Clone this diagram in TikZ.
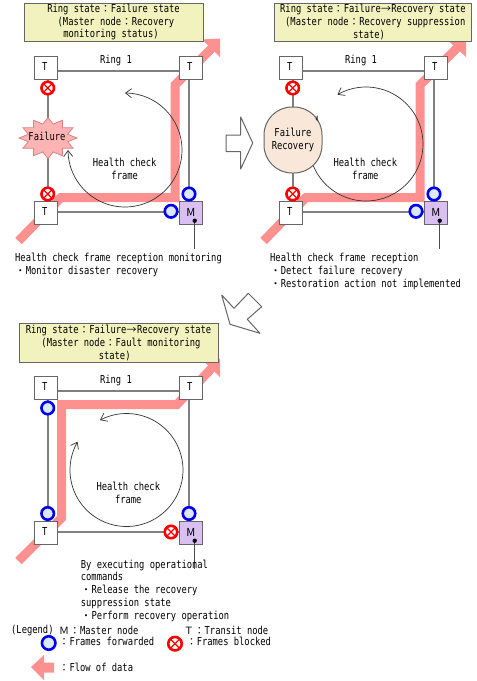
\documentclass[tikz,border=0pt]{standalone}
\usepackage{fontspec}
\usetikzlibrary{calc,shapes.geometric,arrows.meta}
\setmainfont[FakeStretch=0.8]{DejaVu Sans Mono}
\newfontfamily\cjk{Noto Sans CJK JP}
\newcommand{\wide}[1]{\makebox[10.6pt]{\fontsize{10}{12}\cjk #1}}
\newcommand{\fc}{\wide{：}}
\newcommand{\bul}{\wide{・}}
\newcommand{\rar}{\wide{→}}
\definecolor{flow}{HTML}{FF9090}
\definecolor{edgegray}{HTML}{666666}
\definecolor{linegray}{HTML}{808080}
\definecolor{boxfill}{HTML}{F2F2BE}
\definecolor{mfill}{HTML}{D9BFF2}
\definecolor{okfill}{HTML}{DCE8F8}
\definecolor{okring}{HTML}{0000F0}
\definecolor{noring}{HTML}{FF0000}
\definecolor{burstfill}{HTML}{FFB4B4}
\definecolor{burstedge}{HTML}{E08080}
\definecolor{recfill}{HTML}{F9E8DA}
\tikzset{
  x=1pt,y=-1pt,
  every node/.style={font=\fontsize{11}{12.8}\selectfont,inner sep=0pt,text=black},
  titlebox/.style={draw=edgegray,line width=1pt,fill=boxfill,align=left,anchor=center},
  tnode/.style={draw=edgegray,line width=1pt,fill=white,minimum size=23pt,anchor=center},
  mnode/.style={tnode,fill=mfill},
  ringline/.style={draw=linegray,line width=1.8pt},
  flowline/.style={draw=flow,line width=9pt,line join=miter},
  flowhead/.style={fill=flow},
  okmark/.style={circle,draw=okring,line width=2.6pt,fill=okfill,minimum size=12.5pt},
  nomark/.style={circle,draw=noring,line width=2.6pt,fill=white,minimum size=12.5pt,
    path picture={\draw[noring,line width=1.2pt]
      (path picture bounding box.north west)--(path picture bounding box.south east)
      (path picture bounding box.north east)--(path picture bounding box.south west);}},
  health/.style={draw=black!80,line width=.7pt},
  blockarrow/.style={draw=edgegray,line width=1pt,fill=white,line join=round},
  txt/.style={align=left,anchor=north west},
  ctxt/.style={align=center,anchor=center},
  dotnode/.style={circle,fill=black,minimum size=4.4pt}
}
\newcommand{\ringnodes}[3]{%
  \node[tnode] (#1tl) at (45.8+#2,68+#3) {};
  \node[tnode] (#1tr) at (190.8+#2,68+#3) {};
  \node[tnode] (#1bl) at (45.8+#2,213.3+#3) {};
  \node[mnode] (#1m) at (190.8+#2,213.3+#3) {};
  \node at (44.7+#2,66.5+#3) {T};
  \node at (189.8+#2,66.5+#3) {T};
  \node at (44.7+#2,211.8+#3) {T};
  \node[font=\fontsize{11}{12}\cjk] at (190.8+#2,212+#3) {M};
  \draw[ringline] ($(#1tl.east)+(0,2.7)$) -- ($(#1tr.west)+(0,2.7)$);
  \draw[ringline] ($(#1bl.east)+(0,-1.6)$) -- ($(#1m.west)+(0,-1.6)$);
  \draw[ringline] ($(#1tr.south)+(-1.8,0)$) -- ($(#1m.north)+(-1.8,0)$);
  \node[dotnode] (#1dot) at (194.7+#2,220.7+#3) {};
  \coordinate (#1stub) at (194.7+#2,249+#3);
  \draw[black!70,line width=1pt] (#1dot) -- (#1stub);
  \node at (116+#2,60+#3) {Ring 1};
}
\begin{document}
\begin{tikzpicture}
\useasboundingbox (0,0) rectangle (477,681);
% flow bands
\draw[flowline] (18.5,241) -- (61,197.5) -- (175,197.5) -- (175,85) -- (212,48);
\fill[flowhead] (220,38.5) -- (220,57) -- (202,39.5) -- cycle;
\draw[flowline] (263.5,241) -- (306,197.5) -- (420,197.5) -- (420,85) -- (457,48);
\fill[flowhead] (466,38.5) -- (466,57) -- (447,39.5) -- cycle;
\draw[flowline] (18.5,561) -- (61.5,518) -- (61.5,404.5) -- (177,404.5) -- (212,368);
\fill[flowhead] (220,358.5) -- (220,377) -- (202,359.5) -- cycle;
% ring lines on the left sides
\ringnodes{a}{0}{0}
\ringnodes{b}{245}{0}
\ringnodes{c}{0}{320}
\draw[ringline] ($(atl.south)+(1.9,0)$) -- ($(abl.north)+(1.9,0)$);
\draw[ringline] ($(btl.south)+(1.9,0)$) -- ($(bbl.north)+(1.9,0)$);
\draw[ringline] ($(ctl.south)+(1.9,0)$) -- ($(cbl.north)+(1.9,0)$);
% health check loops
\draw[health,{Straight Barb[length=6pt,width=9pt]}-{Straight Barb[length=6pt,width=9pt]}]
  plot[domain=-90:180,samples=90] ({125+57*cos(\x)},{150+57*sin(\x)});
\draw[health,{Straight Barb[length=6pt,width=9pt]}-]
  plot[domain=-120:209,samples=110] ({366+57*cos(\x)},{144+57*sin(\x)});
\draw[health,{Straight Barb[length=6pt,width=9pt]}-{Straight Barb[length=6pt,width=9pt]}]
  plot[domain=-118:210,samples=110] ({126.5+56.5*cos(\x)},{470+56.5*sin(\x)});
% failure shapes
\node[star,star points=12,star point ratio=1.42,draw=burstedge,fill=burstfill,line width=.8pt,
  minimum size=41pt,xscale=1.41] (burst) at (48,138) {};
\node at (47,136.7) {Failure};
\node[draw=edgegray,line width=1pt,fill=recfill,rounded corners=28pt,minimum width=58pt,
  minimum height=66pt,align=center] (rec) at (293,140) {Failure\\[.2pt]Recovery};
\fill[black!80] (317.7,115) -- (317.7,121.7) -- (315.6,119) -- cycle;
% frame marks
\node[nomark] (a1) at (47.7,88) {};
\node[nomark] (a2) at (47.7,194) {};
\node[okmark] (a3) at (189,194) {};
\node[okmark] (a4) at (171,211.3) {};
\node[nomark] (b1) at (292.7,88) {};
\node[nomark] (b2) at (292.7,194) {};
\node[okmark] (b3) at (434,194) {};
\node[okmark] (b4) at (416,211.3) {};
\node[okmark] (c1) at (47.7,408) {};
\node[okmark] (c2) at (47.7,513.5) {};
\node[okmark] (c3) at (189,513.5) {};
\node[nomark] (c4) at (171,532) {};
% title boxes
\node[titlebox,minimum width=179pt,minimum height=38pt] (t1) at (113.5,22)
  {Ring state\fc Failure state\\\hspace*{10.4pt}(Master node\fc Recovery\\\hspace*{16pt}monitoring status)};
\node[titlebox,minimum width=197.5pt,minimum height=38pt] (t2) at (372.9,22)
  {Ring state\fc Failure\rar Recovery state\\\hspace*{5pt}(Master node\fc Recovery suppression\\\hspace*{73pt}state)};
\node[titlebox,minimum width=199pt,minimum height=39pt] (t3) at (118.5,343)
  {Ring state\fc Failure\rar Recovery state\\\hspace*{15.7pt}(Master node\fc Fault monitoring\\\hspace*{73pt}state)};
% loop labels
\node[ctxt] (h1) at (124.7,169) {Health check\\frame};
\node[ctxt] (h2) at (365.3,169) {Health check\\frame};
\node[ctxt] (h3) at (128.3,493) {Health check\\frame};
% captions
\node[txt] (n1) at (15,253) {Health check frame reception monitoring\\\bul Monitor disaster recovery};
\node[txt] (n2) at (270,253) {Health check frame reception\\\bul Detect failure recovery\\\bul Restoration action not implemented};
\node[txt] (n3) at (80.7,559.5) {By executing operational\\commands\\\bul Release the recovery\\suppression state\\\bul Perform recovery operation};
% big white arrows
\draw[blockarrow] (226,135) -- (240.7,135) -- (240.7,117) -- (252.7,143) -- (240.7,169) -- (240.7,151.7) -- (226,151.7) -- cycle;
\draw[blockarrow] (221.7,295) -- (234,308.3) -- (248.3,293.3) -- (261.7,306.7) -- (247.3,319.3) -- (260,333.3) -- (230,324.3) -- cycle;
% legend
\node[anchor=west] (l1) at (11,630) {(Legend)};
\node[anchor=west] (l2) at (58.7,630) {\wide{Ｍ}\fc Master node};
\node[anchor=west] (l3) at (183.3,630) {\wide{Ｔ}\fc Transit node};
\node[okmark,minimum size=13.5pt] (l4) at (48.7,643) {};
\node[anchor=west] (l5) at (58.7,641.7) {\fc Frames forwarded};
\node[nomark,minimum size=13.5pt] (l6) at (175,643.7) {};
\node[anchor=west] (l7) at (186,641.7) {\fc Frames blocked};
\fill[flowhead] (31,667) -- (44,655) -- (44,662.7) -- (54,662.7) -- (54,672.7) -- (44,672.7) -- (44,680) -- cycle;
\node[anchor=west] (l8) at (58.7,667) {\fc Flow of data};
\end{tikzpicture}
\end{document}
